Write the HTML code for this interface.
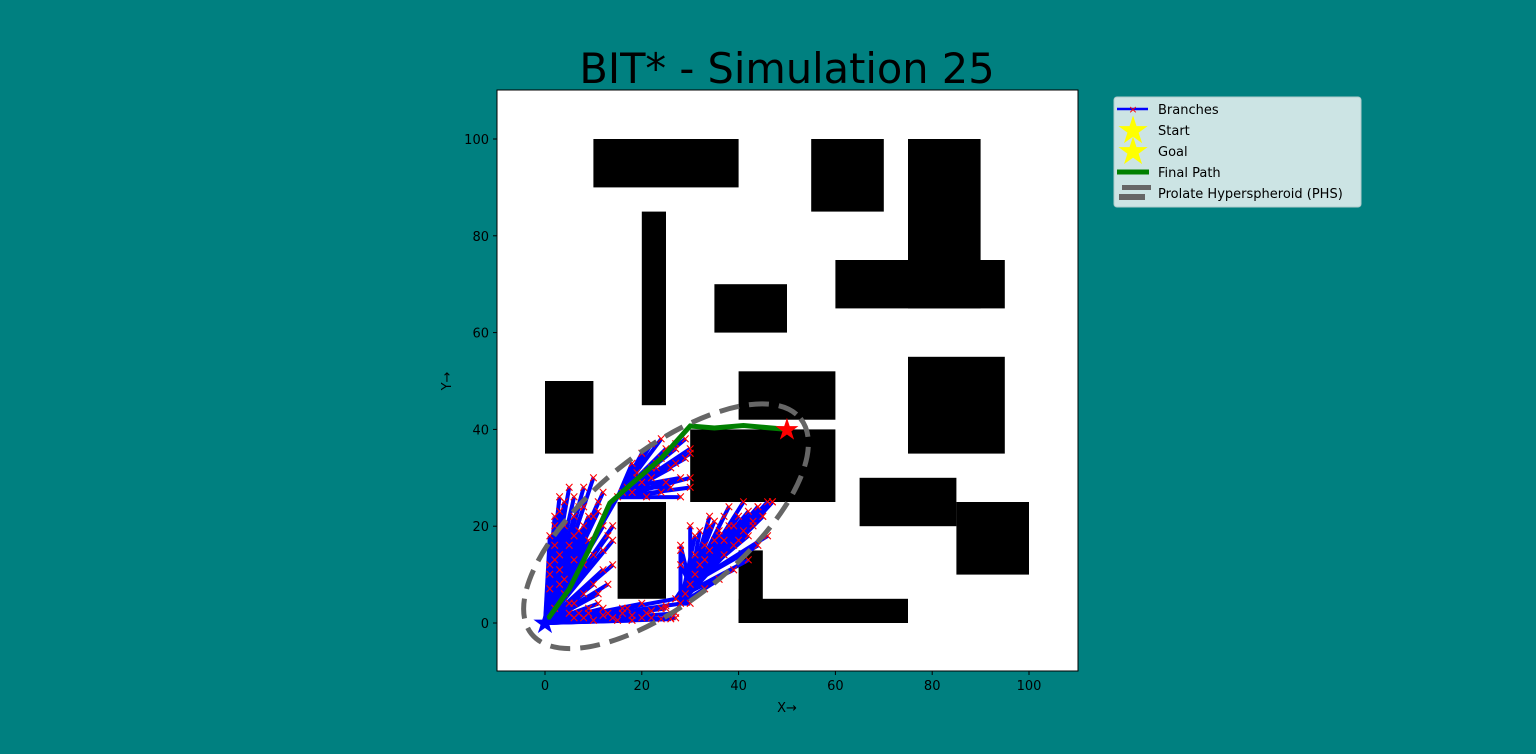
<!DOCTYPE html>
<html><head><meta charset="utf-8"><style>
html,body{margin:0;background:#008080;width:1536px;height:754px;overflow:hidden}
svg{font-family:"DejaVu Sans","Liberation Sans",sans-serif;display:block}
</style></head><body>
<svg id="c" width="1536" height="754">
<rect x="0" y="0" width="1536" height="754" fill="#008080"/>
<text x="787" y="83" font-size="41.5" text-anchor="middle" fill="#000">BIT* - Simulation 25</text>
<rect x="497" y="90" width="581" height="581" fill="#fff"/>
<g id="obs"></g>
<g id="br"></g>
<g id="mk"></g>
<g id="ov"></g>
<rect x="497" y="90" width="581" height="581" fill="none" stroke="#000" stroke-width="1"/>
<g id="ax"></g>
<text x="787" y="712" font-size="13" text-anchor="middle">X→</text>
<text x="451" y="381" font-size="13" text-anchor="middle" transform="rotate(-90 451 381)">Y→</text>
<g>
<rect x="1114" y="97" width="247" height="110" rx="3" fill="#cce4e4" stroke="#b0cccc"/>
<g>
<line x1="1117" y1="109" x2="1148" y2="109" stroke="#0000ff" stroke-width="2.5"/>
<text x="1133" y="113" font-size="11" fill="#f00" text-anchor="middle">×</text>
<text x="1158" y="114" font-size="13">Branches</text></g>
<g>
<text x="1133" y="143" font-size="38" fill="#ff0" text-anchor="middle">★</text>
<text x="1158" y="135" font-size="13">Start</text></g>
<g>
<text x="1133" y="164" font-size="38" fill="#ff0" text-anchor="middle">★</text>
<text x="1158" y="156" font-size="13">Goal</text></g>
<g>
<line x1="1117" y1="172" x2="1149" y2="172" stroke="#008000" stroke-width="5"/>
<text x="1158" y="177" font-size="13">Final Path</text></g>
<g>
<rect x="1122" y="185" width="29" height="5" fill="#666"/>
<rect x="1119" y="194" width="26" height="6" fill="#666"/>
<text x="1158" y="198" font-size="13">Prolate Hyperspheroid (PHS)</text></g>
</g>
</svg>
<script>
const obstacles=[[10,90,30,10],[55,85,15,15],[75,65,15,35],[60,65,35,10],[20,45,5,40],[35,60,15,10],[0,35,10,15],[40,42,20,10],[75,35,20,20],[30,25,30,15],[65,20,20,10],[85,10,15,15],[15,5,10,20],[40,0,5,15],[40,0,35,5]];
const nodesX=[0,2,4,1,3,6,8,10,12,14,2,5,7,9,11,13,4,6,8,10,12,3,5,7,9,11,1,3,6,8,11,5,8,12,16,20,24,27,10,14,18,22,26,6,9,13,17,21,25,28,27,30,32,34,36,38,40,42,44,46,29,31,33,35,37,39,41,43,45,30,33,36,39,42,28,31,34,37,47,15,17,19,21,23,25,27,29,18,20,22,24,26,28,16,19,23,27,30,22,25,
1,2,3,4,6,8,10,12,2,4,6,8,10,12,14,14,13,11,9,7,5,3,1,2,
35,38,41,44,47,36,33,31,40,43,45,32,34,37,39,42,44,46,28,28,30,
18,20,22,24,27,29,30,30,28,24,21,26,25,30,
15,18,22,25,27,20,16,12,24];
const nodesY=[0,3,6,10,14,18,12,8,15,20,22,16,24,22,25,18,9,4,20,14,11,26,28,19,17,23,12,8,13,6,4,2,1,3,2,1,3,2,0.5,1,0.5,1,0.8,1,2,2,3,2,3,4,5,8,12,15,18,20,22,23,24,25,6,10,13,17,14,16,19,21,22,4,7,9,11,13,15,18,20,17,25,26,28,30,31,33,35,36,38,27,29,32,34,28,30,27,31,32,33,35,30,29,
18,20,23,25,26,28,30,27,16,20,22,24,22,20,17,12,8,6,3,2,4,11,7,13,
21,24,25,24,25,19,16,14,17,20,22,19,22,22,20,18,16,18,12,16,20,
33,35,37,38,37,34,30,28,26,27,26,32,36,36,
0.5,1.5,2.5,3.5,1,4,3,1.5,0.8];
const parents=[0,0,0,0,0,0,0,0,0,0,0,0,0,0,0,0,0,0,0,0,0,0,0,0,0,0,0,0,0,0,0,0,0,0,0,0,0,0,0,0,0,0,0,0,0,0,0,0,0,0,0,49,49,49,50,50,50,50,50,50,49,49,49,50,50,50,50,50,50,49,49,49,50,50,49,49,49,49,49,0,79,79,79,79,79,80,80,79,79,79,80,80,80,79,79,79,79,79,79,79,
0,0,0,0,0,0,0,0,0,0,0,0,0,0,0,0,0,0,0,0,0,0,0,0,
60,60,60,60,60,60,60,60,60,60,60,51,51,51,51,51,51,51,51,51,51,
79,79,79,79,79,79,79,79,79,79,79,79,79,79,
0,0,0,0,0,0,0,0,0];
const pathX=[0,5,9,13.4,17.6,24,30,35,41,50];
const pathY=[0,7,15,24.8,28.5,34,40.7,40.3,40.8,40];
const xTicks=[0,20,40,60,80,100];
const yTicks=[0,20,40,60,80,100];
const X=v=>545+v*4.84, Y=v=>623-v*4.84, S=v=>v*4.84;
const NS='http://www.w3.org/2000/svg';
function mk(tag,attrs,parent){const e=document.createElementNS(NS,tag);for(const k in attrs)e.setAttribute(k,attrs[k]);document.getElementById(parent).appendChild(e);return e;}
obstacles.forEach(o=>{const r=mk('rect',{x:X(o[0]),y:Y(o[1]+o[3]),width:S(o[2]),height:S(o[3]),fill:'#000'},'obs');

});
nodesX.forEach((x,i)=>{const p=parents[i];if(p===i)return;
const l=mk('line',{x1:X(nodesX[p]),y1:Y(nodesY[p]),x2:X(x),y2:Y(nodesY[i]),stroke:'#0000ff','stroke-width':4},'br');


const t=mk('text',{x:X(x),y:Y(nodesY[i])+4,'font-size':13,fill:'#ff0000','text-anchor':'middle'},'mk');t.textContent='×';

});
const pl=mk('polyline',{points:pathX.map((x,i)=>X(x)+','+Y(pathY[i])).join(' '),fill:'none',stroke:'#008000','stroke-width':5},'ov');


const el=mk('ellipse',{cx:X(25),cy:Y(20),rx:S(35.6),ry:S(15.4),fill:'none',stroke:'#666','stroke-width':5,'stroke-dasharray':'20 10',transform:`rotate(-38.66 ${X(25)} ${Y(20)})`},'ov');


const st=mk('text',{x:X(0),y:Y(0)+10,'font-size':30,fill:'#0000ff','text-anchor':'middle'},'ov');st.textContent='★';


const gl=mk('text',{x:X(50),y:Y(40)+10,'font-size':30,fill:'#ff0000','text-anchor':'middle'},'ov');gl.textContent='★';


xTicks.forEach(v=>{mk('line',{x1:X(v),x2:X(v),y1:671,y2:675,stroke:'#000'},'ax');
const t=mk('text',{x:X(v),y:690,'font-size':13,'text-anchor':'middle'},'ax');t.textContent=v;

});
yTicks.forEach(v=>{mk('line',{x1:493,x2:497,y1:Y(v),y2:Y(v),stroke:'#000'},'ax');
const t=mk('text',{x:489,y:Y(v)+5,'font-size':13,'text-anchor':'end'},'ax');t.textContent=v;

});
</script>
</body></html>
